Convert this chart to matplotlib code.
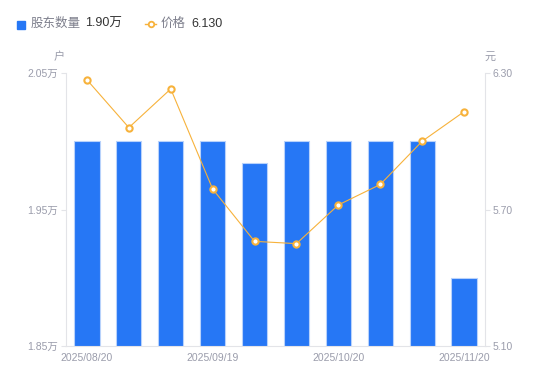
import matplotlib
matplotlib.use("Agg")
import matplotlib.pyplot as plt
import numpy as np

plt.rcParams["font.family"] = ["Liberation Sans", "Noto Sans CJK SC", "DejaVu Sans"]

dates = ["2025/08/20", "2025/08/31", "2025/09/10", "2025/09/19", "2025/09/30",
         "2025/10/10", "2025/10/20", "2025/10/31", "2025/11/10", "2025/11/20"]
holders = [2.00, 2.00, 2.00, 2.00, 1.984, 2.00, 2.00, 2.00, 2.00, 1.90]  # 万户
price = [6.27, 6.06, 6.23, 5.79, 5.56, 5.55, 5.72, 5.81, 6.00, 6.13]
shown_ticks = ["2025/08/20", "2025/09/19", "2025/10/20", "2025/11/20"]

BLUE = "#2677f5"
ORANGE = "#f7b23b"
GRAY = "#9a9cab"
AXIS = "#e3e4e8"

fig = plt.figure(figsize=(5.5, 3.81), dpi=100)
ax = fig.add_axes([66 / 550, 35 / 381, 419 / 550, 273 / 381])
x = np.arange(len(dates))

ax.bar(x, holders, width=0.6, color=BLUE, edgecolor="#b8d2fb", linewidth=0.8, zorder=2)
ax.set_ylim(1.85, 2.05)
ax.set_xlim(-0.5, len(dates) - 0.5)
ax.set_yticks([1.85, 1.95, 2.05])
ax.set_yticklabels(["1.85万", "1.95万", "2.05万"])
ax.set_xticks([dates.index(d) for d in shown_ticks])
ax.set_xticklabels(shown_ticks)

ax2 = ax.twinx()
ax2.plot(x, price, color=ORANGE, linewidth=0.8, marker="o", markersize=4.5,
         markerfacecolor="white", markeredgecolor=ORANGE, markeredgewidth=1.5, zorder=3)
ax2.set_ylim(5.10, 6.30)
ax2.set_yticks([5.10, 5.70, 6.30])
ax2.set_yticklabels(["5.10", "5.70", "6.30"])

for a in (ax, ax2):
    for s in a.spines.values():
        s.set_visible(False)
    a.tick_params(colors=GRAY, labelsize=7.5, length=3.5, width=0.8, pad=2, color=AXIS)
ax.spines["left"].set_visible(True)
ax.spines["left"].set_color(AXIS)
ax.spines["bottom"].set_visible(True)
ax.spines["bottom"].set_color(AXIS)
ax2.spines["right"].set_visible(True)
ax2.spines["right"].set_color(AXIS)
ax.tick_params(axis="x", length=0, pad=5)
ax.set_zorder(ax2.get_zorder() - 1)
ax2.patch.set_visible(False)

fig.text(59 / 550, 1 - 57 / 381, "户", color=GRAY, fontsize=8, ha="center", va="center")
fig.text(490 / 550, 1 - 57 / 381, "元", color=GRAY, fontsize=8, ha="center", va="center")

# legend
fig.patches.append(plt.Rectangle((17 / 550, 1 - 29 / 381), 8 / 550, 8 / 381,
                                 transform=fig.transFigure, color=BLUE, figure=fig))
fig.text(31 / 550, 1 - 24 / 381, "股东数量", color="#7d7f8c", fontsize=9, va="center")
fig.text(85 / 550, 1 - 24 / 381, "1.90万", color="#333333", fontsize=9, va="center")
fig.lines.append(plt.Line2D([145 / 550, 156 / 550], [1 - 24 / 381] * 2, color=ORANGE, lw=1,
                            transform=fig.transFigure, figure=fig))
fig.lines.append(plt.Line2D([150.5 / 550], [1 - 24 / 381], color=ORANGE, marker="o", markersize=4,
                            markerfacecolor="white", markeredgewidth=1.3,
                            transform=fig.transFigure, figure=fig))
fig.text(161 / 550, 1 - 24 / 381, "价格", color="#7d7f8c", fontsize=9, va="center")
fig.text(191 / 550, 1 - 24 / 381, "6.130", color="#333333", fontsize=9, va="center")

fig.savefig("out.png", dpi=100)
